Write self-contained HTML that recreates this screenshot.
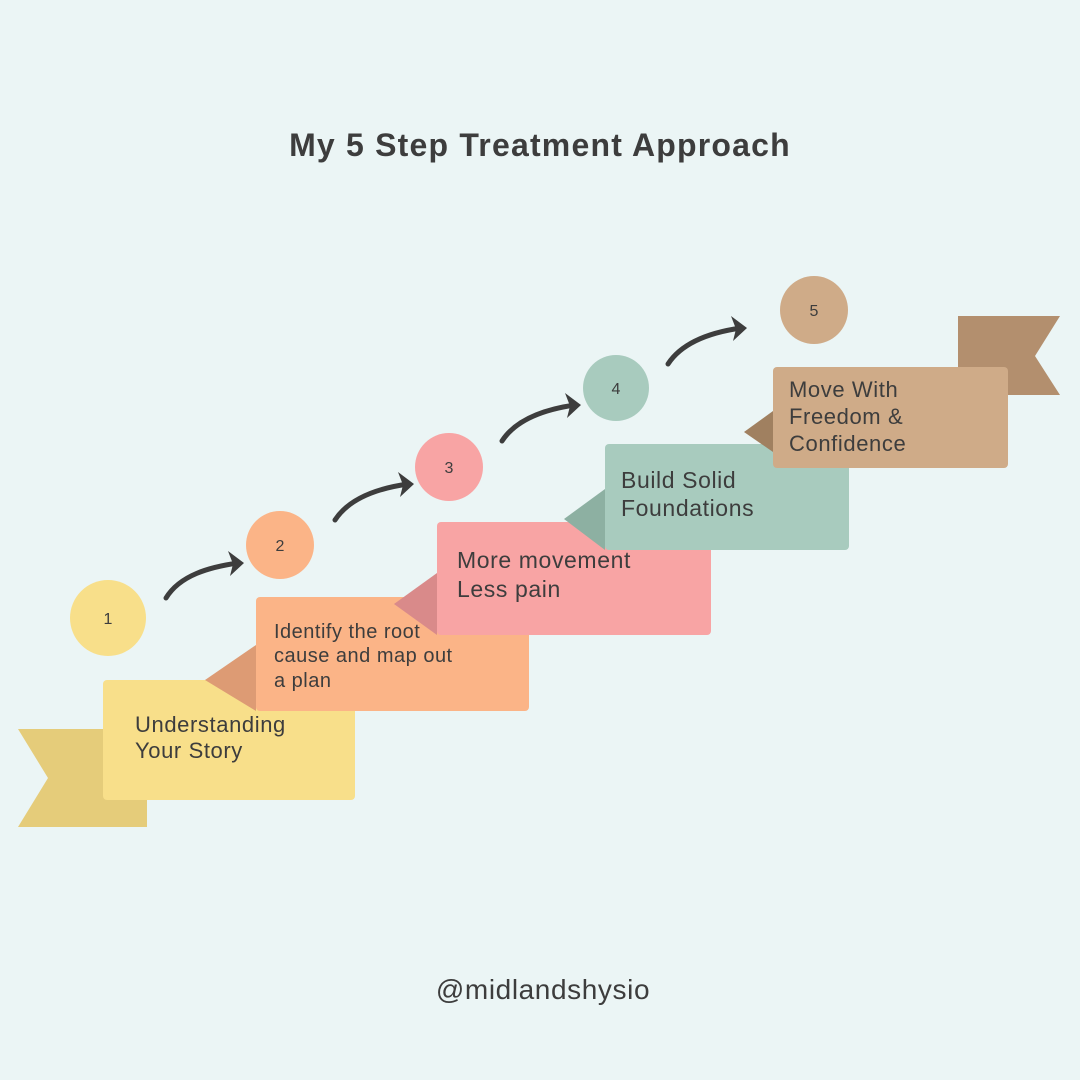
<!DOCTYPE html>
<html><head><style>body{margin:0;background:#ebf5f5}svg{display:block}</style></head><body>
<svg width="1080" height="1080" viewBox="0 0 1080 1080" xmlns="http://www.w3.org/2000/svg" font-family="Liberation Sans, sans-serif">
<rect width="1080" height="1080" fill="#ebf5f5"/>
<text x="540" y="156" text-anchor="middle" font-size="32" font-weight="bold" fill="#3d3d3d" letter-spacing="1.2">My 5 Step Treatment Approach</text>
<text x="543" y="999" text-anchor="middle" font-size="28" fill="#3d3d3d" letter-spacing="0.6">@midlandshysio</text>
<!-- flags -->
<polygon points="18,729 147,729 147,827 18,827 48,778" fill="#e5cc7a"/>
<polygon points="958,316 1060,316 1035,356 1060,395 958,395" fill="#b38f6e"/>
<!-- circles -->
<circle cx="108" cy="618" r="38" fill="#f8df8a"/>
<circle cx="280" cy="545" r="34" fill="#fbb487"/>
<circle cx="449" cy="467" r="34" fill="#f8a4a4"/>
<circle cx="616" cy="388" r="33" fill="#a8cbbe"/>
<circle cx="814" cy="310" r="34" fill="#cfab88"/>
<g font-size="16" fill="#3d3d3d" text-anchor="middle">
<text x="108" y="624">1</text><text x="280" y="551">2</text><text x="449" y="473">3</text><text x="616" y="394">4</text><text x="814" y="316">5</text></g>
<!-- arrows -->
<g fill="none" stroke="#3d3d3d" stroke-width="5" stroke-linecap="round" stroke-linejoin="round">
<path d="M166,598 C180,575 210,567 238,563"/>
<path d="M335,520 C350,497 380,488 408,484"/>
<path d="M502,441 C517,418 547,409 575,405"/>
<path d="M668,364 C683,341 713,332 741,328"/>
</g>
<g fill="#3d3d3d">
<polygon points="228,551 244,563 230,576 233,564"/>
<polygon points="398,472 414,484 400,497 403,485"/>
<polygon points="565,393 581,405 567,418 570,406"/>
<polygon points="731,316 747,328 733,341 736,329"/>
</g>
<!-- cards -->
<rect x="103" y="680" width="252" height="120" rx="4" fill="#f8df8a"/>
<polygon points="205,680 256,645 256,711" fill="#dd9b74"/>
<rect x="256" y="597" width="273" height="114" rx="4" fill="#fbb487"/>
<polygon points="394,604 437,573 437,635" fill="#d98a8a"/>
<rect x="437" y="522" width="274" height="113" rx="4" fill="#f8a4a4"/>
<polygon points="564,519 605,489 605,550" fill="#8db0a2"/>
<rect x="605" y="444" width="244" height="106" rx="4" fill="#a8cbbe"/>
<polygon points="744,432 773,411 773,452" fill="#a08060"/>
<rect x="773" y="367" width="235" height="101" rx="4" fill="#cfab88"/>
<g fill="#3d3d3d">
<text font-size="22" letter-spacing="0.6"><tspan x="135" y="732">Understanding</tspan><tspan x="135" y="758">Your Story</tspan></text>
<text font-size="20" letter-spacing="0.5"><tspan x="274" y="638">Identify the root</tspan><tspan x="274" y="662">cause and map out</tspan><tspan x="274" y="687">a plan</tspan></text>
<text font-size="23" letter-spacing="0.6"><tspan x="457" y="568">More movement</tspan><tspan x="457" y="597">Less pain</tspan></text>
<text font-size="23" letter-spacing="0.6"><tspan x="621" y="488">Build Solid</tspan><tspan x="621" y="516">Foundations</tspan></text>
<text font-size="22" letter-spacing="0.6"><tspan x="789" y="397">Move With</tspan><tspan x="789" y="424">Freedom &amp;</tspan><tspan x="789" y="451">Confidence</tspan></text>
</g>
</svg>
</body></html>
